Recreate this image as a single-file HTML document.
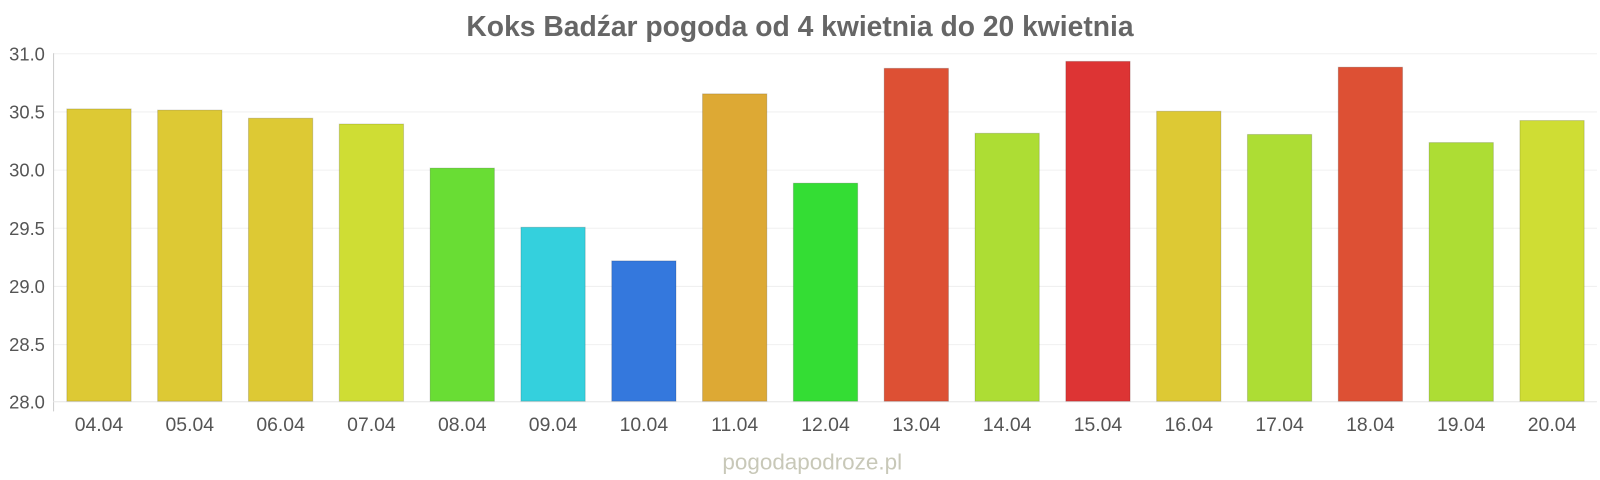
<!DOCTYPE html>
<html><head><meta charset="utf-8"><style>
body{margin:0;background:#fff;}
svg{display:block;font-family:"Liberation Sans",sans-serif;}
</style></head><body>
<svg width="1600" height="480" viewBox="0 0 1568 470" xmlns="http://www.w3.org/2000/svg">
<text x="784" y="35" text-anchor="middle" font-size="27.7" font-weight="bold" fill="#666">Koks Badźar pogoda od 4 kwietnia do 20 kwietnia</text>
<g stroke="#f0f0f0" stroke-width="1">
<line x1="52" x2="1565" y1="52.5" y2="52.5"/>
<line x1="52" x2="1565" y1="109.5" y2="109.5"/>
<line x1="52" x2="1565" y1="166.5" y2="166.5"/>
<line x1="52" x2="1565" y1="223.5" y2="223.5"/>
<line x1="52" x2="1565" y1="280.5" y2="280.5"/>
<line x1="52" x2="1565" y1="337.5" y2="337.5"/>
</g>
<g font-size="18" fill="#555" text-anchor="end">
<text x="44" y="59">31.0</text>
<text x="44" y="116">30.5</text>
<text x="44" y="173">30.0</text>
<text x="44" y="230">29.5</text>
<text x="44" y="287">29.0</text>
<text x="44" y="344">28.5</text>
<text x="44" y="400">28.0</text>
</g>
<line x1="52.5" x2="52.5" y1="52" y2="403" stroke="#ccc"/>
<line x1="52" x2="1565" y1="393.5" y2="393.5" stroke="#e6e6e6"/>
<g id="bars"></g>
<g id="labels" font-size="19" fill="#555" text-anchor="middle"></g>
<text x="796" y="460" text-anchor="middle" font-size="22" fill="#c8c8b8">pogodapodroze.pl</text>
<script>
var v=[30.52,30.51,30.44,30.39,30.01,29.50,29.21,30.65,29.88,30.87,30.31,30.93,30.50,30.30,30.88,30.23,30.42];
var c=["#ddc934","#ddc934","#ddc934","#cfdd34","#69dd34","#34d0dd","#3478dd","#dda934","#34dd34","#dd5034","#addd34","#dd3434","#ddc934","#addd34","#dd5034","#addd34","#cfdd34"];
var b=document.getElementById("bars"),l=document.getElementById("labels"),ns="http://www.w3.org/2000/svg";
for(var i=0;i<17;i++){var cx=97+i*89;var y=393-(v[i]-28)*113.67;
var r=document.createElementNS(ns,"rect");r.setAttribute("x",cx-31.5);r.setAttribute("y",y);r.setAttribute("width",63);r.setAttribute("height",393-y);r.setAttribute("fill",c[i]);r.setAttribute("stroke","rgba(0,0,0,0.15)");b.appendChild(r);
var t=document.createElementNS(ns,"text");t.setAttribute("x",cx);t.setAttribute("y",422);t.textContent=String(4+i).padStart(2,"0")+".04";l.appendChild(t);}
</script>
</svg>
</body></html>
